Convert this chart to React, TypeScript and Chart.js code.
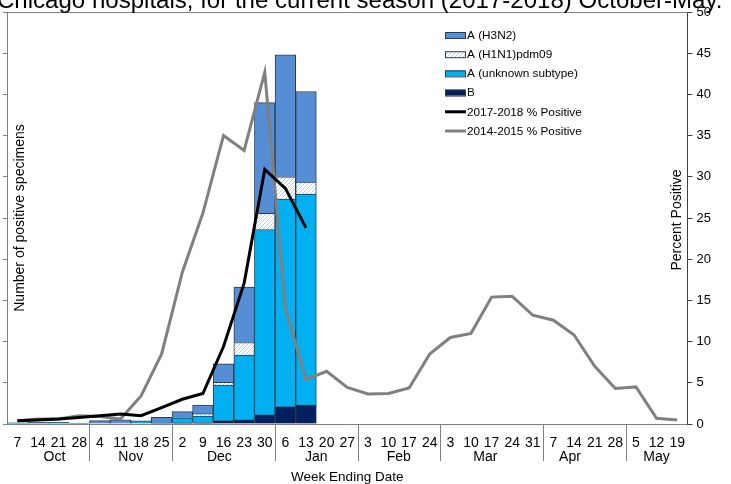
import React, { useEffect, useRef } from 'react';
import { Chart, registerables } from 'chart.js';

Chart.register(...registerables);

const TITLE = 'Chicago hospitals, for the current season (2017-2018) October-May.';
const weekLabels = ['7','14','21','28','4','11','18','25','2','9','16','23','30','6','13','20','27','3','10','17','24','3','10','17','24','31','7','14','21','28','5','12','19'];
const months = ['Oct','Nov','Dec','Jan','Feb','Mar','Apr','May'];
const monthWeekCounts = [4,4,5,4,4,5,4,3];
// label anchor (in category units) used by Excel's multi-level axis
const monthLabelAt = [2.3, 6.0, 10.3, 15.0, 19.0, 23.2, 27.3, 31.5];

const fluB = [null,null,null,null,null,null,null,null,0.15,0.15,0.4,0.5,1.1,2.1,2.3];
const fluAUnknown = [0.15,null,0.2,0.1,null,null,0.37,0.1,0.6,0.8,4.33,7.85,22.5,25.2,25.6];
const fluAH1N1 = [null,null,null,null,null,null,null,null,null,0.3,0.33,1.54,1.97,2.7,1.45];
const fluAH3N2 = [null,0.2,null,null,0.4,0.5,null,0.7,0.75,1.05,2.24,6.73,13.43,14.8,11.0];

const pos2017 = [0.4,0.5,0.6,0.8,1.0,1.2,1.0,2.0,3.0,3.7,9.4,17.1,30.9,28.6,23.8];
const pos2014 = [0.4,0.6,0.6,1.0,0.9,0.6,3.4,8.5,18.4,25.6,35.0,33.2,42.7,14.0,5.4,6.4,4.45,3.64,3.7,4.37,8.5,10.5,11.0,15.4,15.5,13.2,12.6,10.8,7.0,4.3,4.5,0.7,0.5];

const rightTicks = [0,5,10,15,20,25,30,35,40,45,50];

const FONT = '"Liberation Sans", Arial, sans-serif';
const C_H3N2 = '#558ED5';
const C_UNK = '#00B0F0';
const C_B = '#002060';
const C_BORDER = '#2F3B4C';

function makeHatch(): CanvasPattern | string {
  const c = document.createElement('canvas');
  c.width = 4; c.height = 4;
  const g = c.getContext('2d');
  if (!g) return '#DCE6F2';
  g.fillStyle = '#ffffff';
  g.fillRect(0, 0, 4, 4);
  g.strokeStyle = '#B3CDEE';
  g.lineWidth = 1;
  g.beginPath();
  g.moveTo(0, 4); g.lineTo(4, 0);
  g.moveTo(-2, 2); g.lineTo(2, -2);
  g.moveTo(2, 6); g.lineTo(6, 2);
  g.stroke();
  return g.createPattern(c, 'repeat') || '#DCE6F2';
}

export default function App() {
  const ref = useRef<HTMLCanvasElement | null>(null);
  useEffect(() => {
    if (!ref.current) return;
    const hatch = makeHatch();
    const decor = {
      id: 'decor',
      afterDraw(chart: any) {
        const ctx = chart.ctx as CanvasRenderingContext2D;
        const a = chart.chartArea;
        const cw = (a.right - a.left) / weekLabels.length;
        ctx.save();
        // top border
        ctx.strokeStyle = '#808080';
        ctx.lineWidth = 1;
        ctx.beginPath();
        ctx.moveTo(a.left - 3, a.top + 0.5);
        ctx.lineTo(a.right, a.top + 0.5);
        ctx.stroke();
        // month separators
        let acc = 0;
        ctx.strokeStyle = '#808080';
        for (let i = 0; i < monthWeekCounts.length - 1; i++) {
          acc += monthWeekCounts[i];
          const x = Math.round(a.left + acc * cw) + 0.5;
          ctx.beginPath();
          ctx.moveTo(x, a.bottom);
          ctx.lineTo(x, a.bottom + 37);
          ctx.stroke();
        }
        // month labels
        ctx.fillStyle = '#000';
        ctx.font = `14px ${FONT}`;
        ctx.textAlign = 'center';
        ctx.textBaseline = 'middle';
        months.forEach((m, i) => {
          ctx.fillText(m, a.left + monthLabelAt[i] * cw, a.bottom + 33);
        });
        // axis title x
        ctx.font = `13.5px ${FONT}`;
        ctx.fillText('Week Ending Date', (a.left + a.right) / 2, a.bottom + 53);
        // left title
        ctx.font = `14px ${FONT}`;
        ctx.save();
        ctx.translate(a.left + 13, (a.top + a.bottom) / 2);
        ctx.rotate(-Math.PI / 2);
        ctx.fillText('Number of positive specimens', 0, 0);
        ctx.restore();
        // right title
        ctx.save();
        ctx.translate(a.right - 10, 220);
        ctx.rotate(-Math.PI / 2);
        ctx.fillText('Percent Positive', 0, 0);
        ctx.restore();
        // legend
        const lx = 445, ly0 = 35, step = 19.2;
        const items: any[] = [
          { t: 'A (H3N2)', f: C_H3N2, box: true },
          { t: 'A (H1N1)pdm09', f: hatch, box: true },
          { t: 'A (unknown subtype)', f: C_UNK, box: true },
          { t: 'B', f: C_B, box: true },
          { t: '2017-2018 % Positive', f: '#000', box: false },
          { t: '2014-2015 % Positive', f: '#808080', box: false },
        ];
        ctx.font = `11.8px ${FONT}`;
        ctx.textAlign = 'left';
        items.forEach((it, i) => {
          const y = ly0 + i * step;
          if (it.box) {
            ctx.fillStyle = it.f;
            ctx.fillRect(lx, y - 3, 20, 6);
            ctx.strokeStyle = C_BORDER;
            ctx.lineWidth = 1;
            ctx.strokeRect(lx + 0.5, y - 2.5, 20, 6);
          } else {
            ctx.strokeStyle = it.f;
            ctx.lineWidth = 3;
            ctx.beginPath();
            ctx.moveTo(lx, y);
            ctx.lineTo(lx + 21, y);
            ctx.stroke();
          }
          ctx.fillStyle = '#000';
          ctx.fillText(it.t, lx + 22, y + 0.5);
        });
        // clipped page title
        let size = 20;
        ctx.font = `${size}px ${FONT}`;
        const w = ctx.measureText(TITLE).width;
        size = size * 726 / w;
        ctx.font = `${size}px ${FONT}`;
        ctx.textAlign = 'left';
        ctx.textBaseline = 'alphabetic';
        ctx.fillText(TITLE, -3, 7.5);
        ctx.restore();
      },
    };
    const chart = new Chart(ref.current, {
      type: 'bar',
      data: {
        labels: weekLabels,
        datasets: [
          { type: 'line', label: '2017-2018 % Positive', data: pos2017, yAxisID: 'y1', borderColor: '#000', borderWidth: 3, pointRadius: 0, tension: 0, order: 0, spanGaps: false },
          { type: 'line', label: '2014-2015 % Positive', data: pos2014, yAxisID: 'y1', borderColor: '#808080', borderWidth: 3, pointRadius: 0, tension: 0, order: 0 },
          { label: 'B', data: fluB, backgroundColor: C_B, borderColor: C_BORDER, borderWidth: 1, order: 1, stack: 's' },
          { label: 'A (unknown subtype)', data: fluAUnknown, backgroundColor: C_UNK, borderColor: C_BORDER, borderWidth: 1, order: 1, stack: 's' },
          { label: 'A (H1N1)pdm09', data: fluAH1N1, backgroundColor: hatch as any, borderColor: C_BORDER, borderWidth: 1, order: 1, stack: 's' },
          { label: 'A (H3N2)', data: fluAH3N2, backgroundColor: C_H3N2, borderColor: C_BORDER, borderWidth: 1, order: 1, stack: 's' },
        ] as any,
      },
      options: {
        responsive: false,
        animation: false,
        layout: { padding: { left: 0, right: 0, top: 12, bottom: 0 } },
        datasets: { bar: { barPercentage: 1, categoryPercentage: 1 } },
        plugins: { legend: { display: false }, tooltip: { enabled: false }, title: { display: false } },
        scales: {
          x: {
            stacked: true,
            grid: { display: false },
            border: { display: true, color: '#808080', width: 1 },
            ticks: { color: '#000', font: { family: FONT, size: 14 }, maxRotation: 0, autoSkip: false, padding: 3 },
            afterFit: (s: any) => { s.height = 60; },
          },
          y: {
            position: 'left',
            stacked: true,
            min: 0, max: 50,
            ticks: { display: false, stepSize: 5 },
            grid: { display: true, drawOnChartArea: false, drawTicks: true, tickLength: 4, color: '#808080' },
            border: { display: true, color: '#808080', width: 1 },
            afterFit: (s: any) => { s.width = 7; },
          },
          y1: {
            position: 'right',
            min: 0, max: 50,
            afterBuildTicks: (s: any) => { s.ticks = rightTicks.map((v) => ({ value: v })); },
            ticks: { color: '#000', font: { family: FONT, size: 13 }, padding: 4 },
            grid: { display: true, drawOnChartArea: false, drawTicks: true, tickLength: 5, color: '#404040' },
            border: { display: true, color: '#404040', width: 1 },
            afterFit: (s: any) => { s.width = 43.5; },
          },
        },
      } as any,
      plugins: [decor],
    });
    return () => chart.destroy();
  }, []);
  return (
    <div style={{ position: 'absolute', left: 0, top: 0, width: 731, height: 484, background: '#fff' }}>
      <canvas ref={ref} width={731} height={484} style={{ display: 'block' }} />
    </div>
  );
}
